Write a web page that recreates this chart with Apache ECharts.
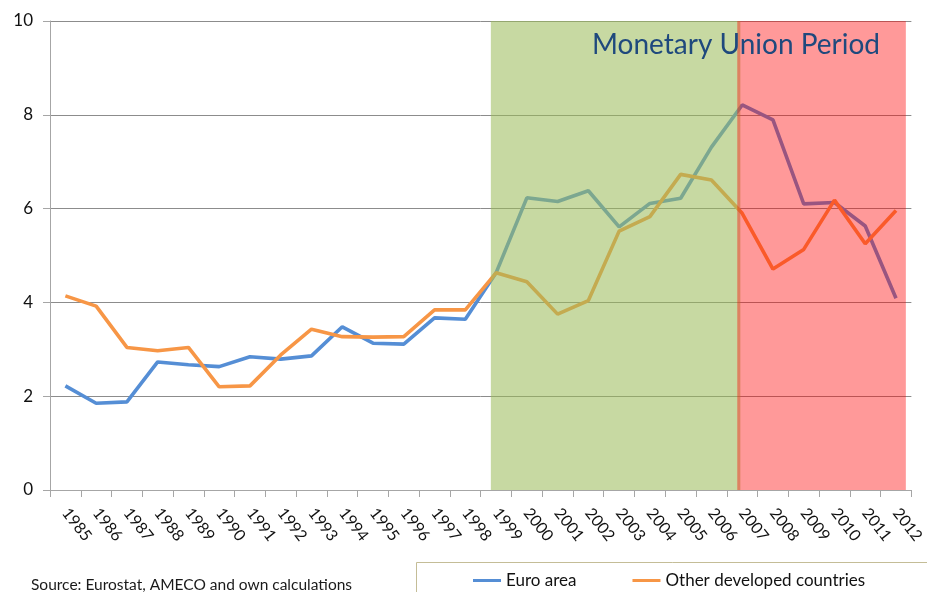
<!DOCTYPE html>
<html>
<head>
<meta charset="UTF-8">
<title>Monetary Union Period</title>
<script src="https://cdn.jsdelivr.net/npm/echarts@6/dist/echarts.min.js"></script>
<style>
  html, body { margin: 0; padding: 0; background: #fff; }
  #main { width: 927px; height: 592px; }
</style>
</head>
<body>
<div id="main"></div>
<script>
// data
var years = ['1985', '1986', '1987', '1988', '1989', '1990', '1991', '1992', '1993', '1994',
  '1995', '1996', '1997', '1998', '1999', '2000', '2001', '2002', '2003', '2004',
  '2005', '2006', '2007', '2008', '2009', '2010', '2011', '2012'];
var euroArea = [2.22, 1.85, 1.88, 2.73, 2.67, 2.63, 2.84, 2.79, 2.86, 3.48,
  3.13, 3.11, 3.67, 3.64, 4.63, 6.23, 6.15, 6.38, 5.61, 6.11,
  6.22, 7.31, 8.21, 7.89, 6.10, 6.13, 5.63, 4.09];
var otherDeveloped = [4.14, 3.92, 3.04, 2.97, 3.04, 2.20, 2.22, 2.88, 3.43, 3.27,
  3.26, 3.27, 3.84, 3.84, 4.63, 4.44, 3.75, 4.04, 5.52, 5.83,
  6.73, 6.61, 5.90, 4.71, 5.13, 6.18, 5.25, 5.96];
// shaded periods, in years (start, end)
var periodGreen = [1998.83, 2006.94];
var periodRed = [2006.84, 2012.32];
var yMin = 0, yMax = 10, yStep = 2;

var bandColors = ['rgba(155,187,89,0.56)', 'rgba(255,0,0,0.4)'];
var font = 'Lato, "Open Sans", sans-serif';

var myChart = echarts.init(document.getElementById('main'));
var option = {
  animation: false,
  textStyle: { fontFamily: font },
  title: [{
    text: 'Monetary Union Period',
    left: 587,
    top: 26,
    textStyle: { fontSize: 28, fontWeight: 'normal', color: '#1f497d', fontFamily: font }
  }, {
    text: 'Source: Eurostat, AMECO and own calculations',
    left: 26,
    top: 572,
    textStyle: { fontSize: 15.5, fontWeight: 'normal', color: '#1a1a1a', fontFamily: font }
  }],
  graphic: [{
    type: 'rect',
    left: 416,
    top: 562,
    shape: { width: 600, height: 40 },
    style: { fill: '#fff', stroke: '#c4bd97', lineWidth: 1 },
    z: 0
  }],
  legend: {
    data: ['Euro area', 'Other developed countries'],
    left: 468,
    top: 567,
    icon: 'rect',
    itemWidth: 28,
    itemHeight: 3,
    itemGap: 56,
    textStyle: { fontSize: 17, color: '#111', fontFamily: font }
  },
  grid: { left: 50, right: 15, top: 21, bottom: 102 },
  xAxis: [{
    type: 'category',
    data: years,
    boundaryGap: true,
    axisLine: { lineStyle: { color: '#a6a6a6', width: 1 } },
    axisTick: { show: true, interval: 0, length: 7, lineStyle: { color: '#a6a6a6' } },
    axisLabel: { interval: 0, rotate: -52, fontSize: 16, color: '#111', margin: 20 }
  }, {
    type: 'value',
    min: 1984.5,
    max: 2012.5,
    show: false
  }],
  yAxis: {
    type: 'value',
    min: yMin,
    max: yMax,
    interval: yStep,
    axisLine: { show: true, lineStyle: { color: '#a6a6a6' } },
    axisTick: { show: true, length: 7, lineStyle: { color: '#a6a6a6' } },
    axisLabel: { fontSize: 17, color: '#111', margin: 17 },
    splitLine: { lineStyle: { color: '#8c8c8c', width: 1 } }
  },
  series: [{
    name: 'Euro area',
    type: 'line',
    data: euroArea,
    symbol: 'none',
    lineStyle: { width: 3.6, color: '#558ed5' },
    itemStyle: { color: '#558ed5' },
    z: 2
  }, {
    name: 'Other developed countries',
    type: 'line',
    data: otherDeveloped,
    symbol: 'none',
    lineStyle: { width: 3.6, color: '#f79646' },
    itemStyle: { color: '#f79646' },
    z: 2
  }, {
    // period shading drawn over the lines
    type: 'custom',
    xAxisIndex: 1,
    z: 4,
    silent: true,
    data: [periodGreen.concat([0]), periodRed.concat([1])],
    renderItem: function(params, api) {
      var p0 = api.coord([api.value(0), yMax]);
      var p1 = api.coord([api.value(1), yMin]);
      return {
        type: 'rect',
        shape: { x: p0[0], y: p0[1], width: p1[0] - p0[0], height: p1[1] - p0[1] },
        style: { fill: bandColors[api.value(2)] }
      };
    }
  }]
};
myChart.setOption(option);
</script>
</body>
</html>
